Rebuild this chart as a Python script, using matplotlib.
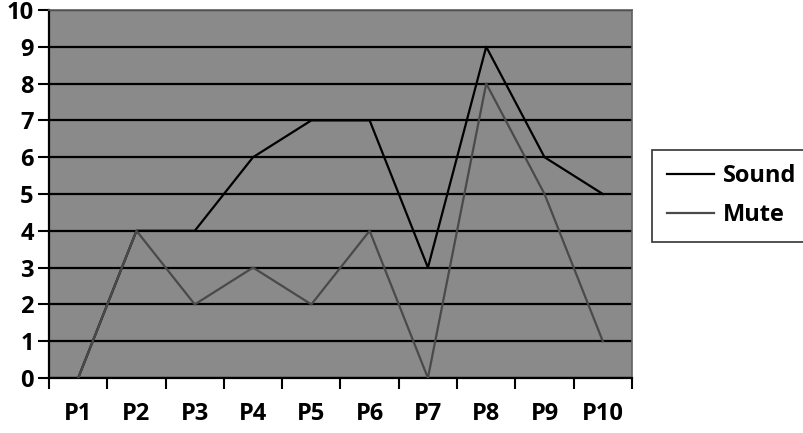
import matplotlib
matplotlib.use("Agg")
import matplotlib.pyplot as plt

categories = ["P1", "P2", "P3", "P4", "P5", "P6", "P7", "P8", "P9", "P10"]
sound = [0, 4, 4, 6, 7, 7, 3, 9, 6, 5]
mute = [0, 4, 2, 3, 2, 4, 0, 8, 5, 1]

plt.rcParams['font.family'] = ['Open Sans', 'DejaVu Sans']

fig = plt.figure(figsize=(8.04, 4.33), dpi=100)
ax = fig.add_axes([0.061, 0.127, 0.725, 0.850])
ax.set_facecolor("#8a8a8a")

x = list(range(len(categories)))
ax.plot(x, sound, color="black", linewidth=1.6, label="Sound", zorder=3)
ax.plot(x, mute, color="#4a4a4a", linewidth=1.6, label="Mute", zorder=4)

ax.set_xlim(-0.5, len(categories) - 0.5)
ax.set_ylim(0, 10)
ax.set_yticks(range(0, 11))
ax.set_xticks([i - 0.5 for i in range(len(categories) + 1)])
ax.set_xticklabels([])
ax.set_xticks(x, minor=True)
ax.set_xticklabels(categories, minor=True, fontsize=17, fontweight="bold")
ax.tick_params(axis="x", which="minor", length=0, pad=17)
ax.tick_params(axis="x", which="major", length=8, width=1.5, direction="out")
ax.tick_params(axis="y", length=8, width=1.5, labelsize=17, pad=3)
for lbl in ax.get_yticklabels():
    lbl.set_fontweight("bold")

ax.grid(axis="y", color="black", linewidth=1.6, zorder=1)
ax.set_axisbelow(True)
for side in ["top", "right"]:
    ax.spines[side].set_color("#606060")
    ax.spines[side].set_linewidth(1.2)
ax.spines["left"].set_linewidth(1.6)
ax.spines["bottom"].set_linewidth(1.6)

leg = ax.legend(loc="center left", bbox_to_anchor=(1.035, 0.495), frameon=True,
                fancybox=False, edgecolor="black",
                prop={"weight": "bold", "size": 17}, handlelength=2.0,
                handletextpad=0.4, borderpad=0.6, labelspacing=0.65,
                borderaxespad=0)
leg.get_frame().set_linewidth(1.2)

fig.savefig("out.png", dpi=100, facecolor="white")
